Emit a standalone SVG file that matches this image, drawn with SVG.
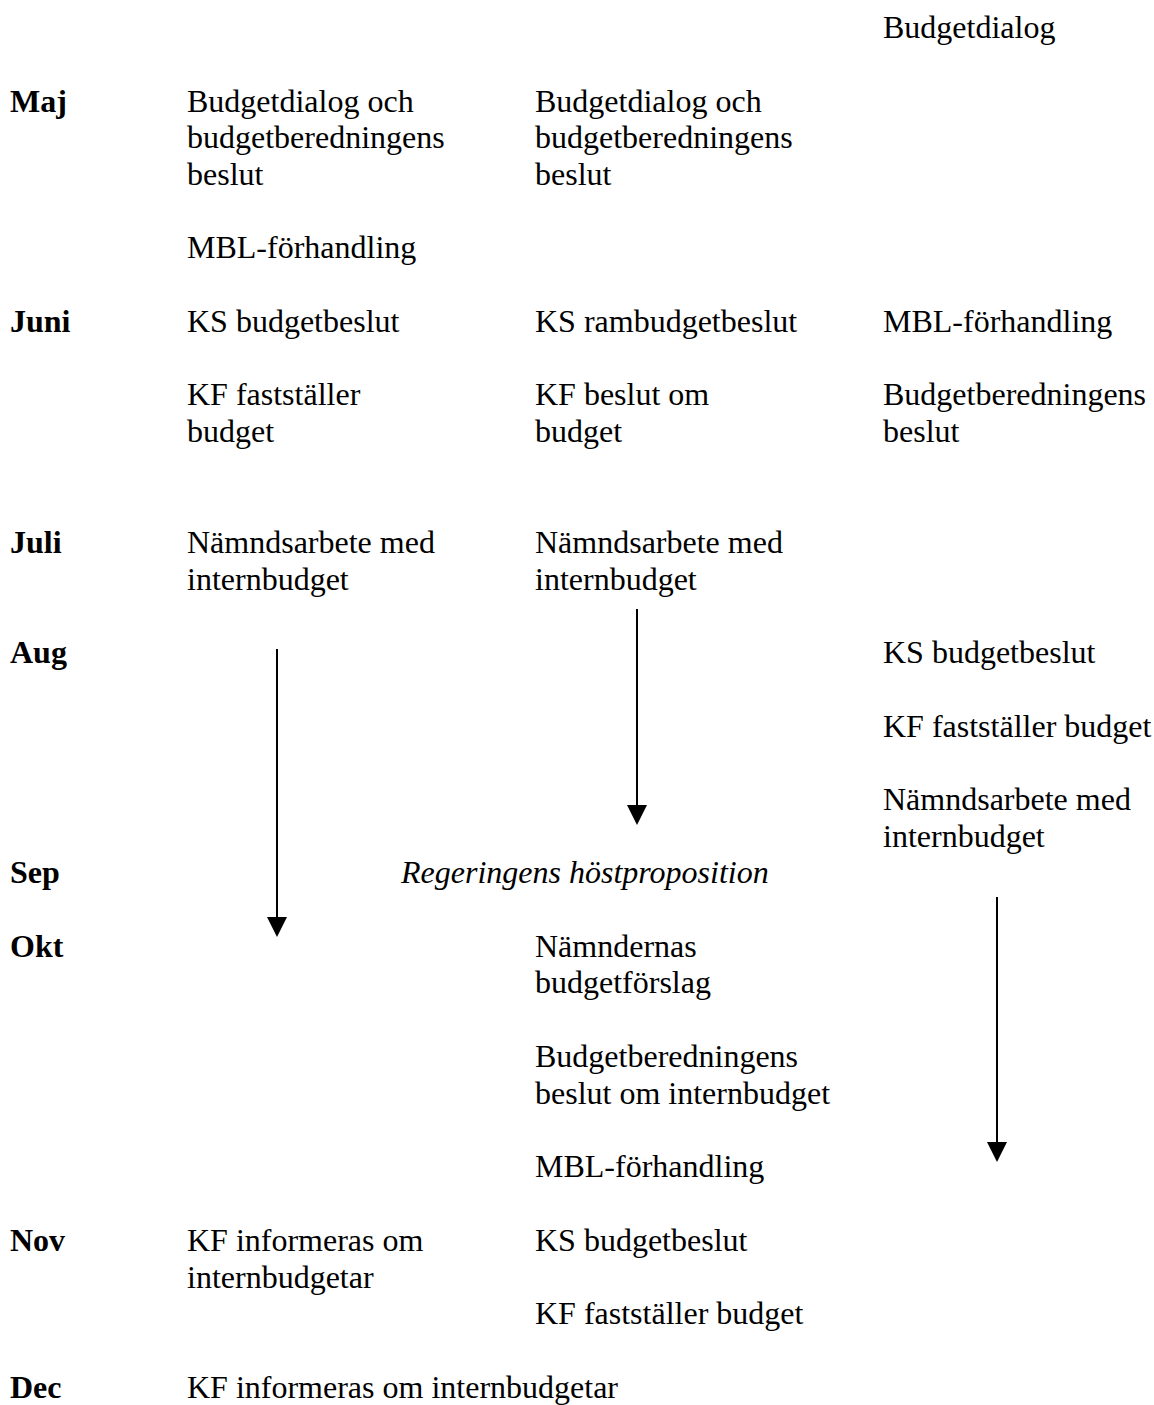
<svg xmlns="http://www.w3.org/2000/svg" width="1154" height="1405" viewBox="0 0 1154 1405">
<style>
text{font-family:"Liberation Serif","Times New Roman",serif;font-size:32px;fill:#000}
.m{font-weight:bold}
.i{font-style:italic}
.c{stroke:#000;stroke-width:2;fill:none}
</style>
<defs>
<marker id="ah" viewBox="0 0 20 20" refX="0" refY="10" markerWidth="20" markerHeight="20" markerUnits="userSpaceOnUse" orient="auto">
<path d="M0,0 L20,10 L0,20 z" fill="#000"/>
</marker>
</defs>
<rect width="1154" height="1405" fill="#fff"/>
<g id="months">
<text class="m" x="10" y="112">Maj</text>
<text class="m" x="10" y="332">Juni</text>
<text class="m" x="10" y="553">Juli</text>
<text class="m" x="10" y="663">Aug</text>
<text class="m" x="10" y="883">Sep</text>
<text class="m" x="10" y="957">Okt</text>
<text class="m" x="10" y="1251">Nov</text>
<text class="m" x="10" y="1398">Dec</text>
</g>
<g id="col1">
<g id="c1-maj"><text x="187" y="112">Budgetdialog och</text><text x="187" y="148">budgetberedningens</text><text x="187" y="185">beslut</text></g>
<g id="c1-mbl"><text x="187" y="258">MBL-förhandling</text></g>
<g id="c1-ks"><text x="187" y="332">KS budgetbeslut</text></g>
<g id="c1-kf"><text x="187" y="405">KF fastställer</text><text x="187" y="442">budget</text></g>
<g id="c1-nam"><text x="187" y="553">Nämndsarbete med</text><text x="187" y="590">internbudget</text></g>
<g id="c1-nov"><text x="187" y="1251">KF informeras om</text><text x="187" y="1288">internbudgetar</text></g>
<g id="c1-dec"><text x="187" y="1398">KF informeras om internbudgetar</text></g>
</g>
<g id="col2">
<g id="c2-maj"><text x="535" y="112">Budgetdialog och</text><text x="535" y="148">budgetberedningens</text><text x="535" y="185">beslut</text></g>
<g id="c2-ks"><text x="535" y="332">KS rambudgetbeslut</text></g>
<g id="c2-kf"><text x="535" y="405">KF beslut om</text><text x="535" y="442">budget</text></g>
<g id="c2-nam"><text x="535" y="553">Nämndsarbete med</text><text x="535" y="590">internbudget</text></g>
<g id="c2-reg"><text class="i" x="401" y="883">Regeringens höstproposition</text></g>
<g id="c2-forslag"><text x="535" y="957">Nämndernas</text><text x="535" y="993">budgetförslag</text></g>
<g id="c2-bb"><text x="535" y="1067">Budgetberedningens</text><text x="535" y="1104">beslut om internbudget</text></g>
<g id="c2-mbl"><text x="535" y="1177">MBL-förhandling</text></g>
<g id="c2-ks2"><text x="535" y="1251">KS budgetbeslut</text></g>
<g id="c2-kf2"><text x="535" y="1324">KF fastställer budget</text></g>
</g>
<g id="col3">
<g id="c3-bd"><text x="883" y="38">Budgetdialog</text></g>
<g id="c3-mbl"><text x="883" y="332">MBL-förhandling</text></g>
<g id="c3-bb"><text x="883" y="405">Budgetberedningens</text><text x="883" y="442">beslut</text></g>
<g id="c3-ks"><text x="883" y="663">KS budgetbeslut</text></g>
<g id="c3-kf"><text x="883" y="737">KF fastställer budget</text></g>
<g id="c3-nam"><text x="883" y="810">Nämndsarbete med</text><text x="883" y="847">internbudget</text></g>
</g>
<g id="connectors">
<line class="c" x1="277" y1="649" x2="277" y2="917" marker-end="url(#ah)"/>
<line class="c" x1="637" y1="609" x2="637" y2="805" marker-end="url(#ah)"/>
<line class="c" x1="997" y1="897" x2="997" y2="1142" marker-end="url(#ah)"/>
</g>
</svg>
